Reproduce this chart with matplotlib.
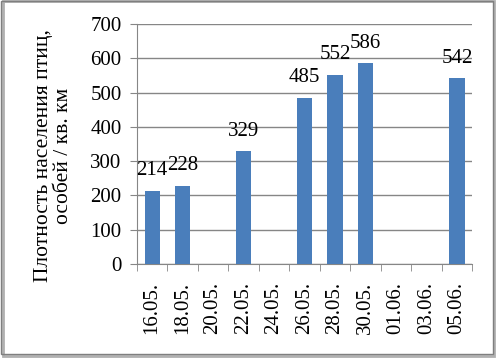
import matplotlib
matplotlib.use("Agg")
import matplotlib.pyplot as plt
from matplotlib.patches import Rectangle
import numpy as np

# survey dates and bird density (individuals / sq. km); None = no count
dates = ["16.05.", "18.05.", "20.05.", "22.05.", "24.05.", "26.05.",
         "28.05.", "30.05.", "01.06.", "03.06.", "05.06."]
density = [214, 228, None, 329, None, 485, 552, 586, None, None, 542]

plt.rcParams["font.family"] = ["Liberation Serif", "DejaVu Serif"]

fig = plt.figure(figsize=(4.96, 3.58), dpi=100)
ax = fig.add_axes([0.276, 0.263, 0.676, 0.67])

x = np.arange(len(dates))
vals = [v if v is not None else 0 for v in density]
mask = [v is not None for v in density]
bars = ax.bar(x[mask], np.array(vals)[mask], width=0.5, color="#4a7ebb", zorder=3)

for xi, v in zip(x[mask], np.array(vals)[mask]):
    ax.text(xi, v + 30, str(v), ha="center", va="bottom", fontsize=15, zorder=4)

ax.set_xlim(-0.5, len(dates) - 0.5)
ax.set_ylim(0, 700)
ax.set_yticks(range(0, 701, 100))
ax.yaxis.grid(True, color="#868686", linewidth=1, zorder=0)
ax.set_xticks(x)
ax.set_xticklabels(dates, rotation=90, fontsize=15)
ax.set_xticks(np.arange(-0.5, len(dates), 1), minor=True)
ax.tick_params(axis="x", which="major", length=0, pad=13)
ax.tick_params(axis="x", which="minor", length=5, color="#868686", direction="out")
ax.tick_params(axis="y", labelsize=15, length=5, color="#868686", pad=6)

for side in ("top", "right"):
    ax.spines[side].set_visible(False)
for side in ("left", "bottom"):
    ax.spines[side].set_color("#868686")

ax.set_ylabel("Плотность населения птиц,\nособей / кв. км", fontsize=15.5,
              linespacing=1.1)
ax.yaxis.set_label_coords(-0.19, 0.45)

# outer frame with a light shadow
fig.patches.append(Rectangle((0.006, 0.006), 0.99, 0.99, transform=fig.transFigure,
                             fill=False, edgecolor="#b0b0b0", linewidth=2))
fig.patches.append(Rectangle((0.003, 0.01), 0.99, 0.987, transform=fig.transFigure,
                             fill=False, edgecolor="#7f7f7f", linewidth=1))

fig.savefig("out.png", dpi=100)
